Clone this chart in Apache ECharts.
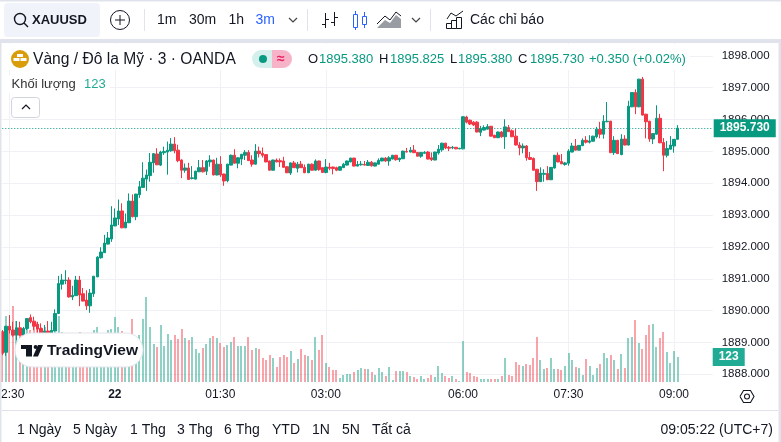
<!DOCTYPE html>
<html>
<head>
<meta charset="utf-8">
<title>XAUUSD</title>
<style>
  html, body { margin: 0; padding: 0; background: #fff; }
  #main { width: 781px; height: 442px; }
</style>
<script src="https://cdn.jsdelivr.net/npm/echarts@6/dist/echarts.min.js"></script>
</head>
<body>
<div id="main"></div>
<script>
// 3 minute bars
const opens = [
  1889.34,1888.69,1889.51,1889.39,1889.23,1889.46,1889.23,1889.44,1889.78,1889.67,
  1889.57,1889.44,1889.28,1889.36,1889.29,1889.36,1889.91,1890.83,1890.94,1890.96,
  1890.43,1890.47,1890.96,1890.53,1890.33,1890.15,1890.53,1891.06,1891.66,1891.82,
  1892.09,1892.25,1892.66,1892.88,1893.13,1892.60,1892.76,1893.44,1892.95,1893.64,
  1893.87,1894.13,1894.24,1894.64,1894.92,1894.57,1894.96,1894.98,1895.02,1895.23,
  1895.04,1894.73,1894.41,1894.48,1894.15,1894.13,1894.36,1894.49,1894.38,1894.67,
  1894.73,1894.26,1894.60,1894.29,1894.08,1894.57,1894.88,1894.63,1894.76,1894.88,
  1894.97,1894.73,1894.60,1895.01,1894.94,1894.90,1894.70,1894.41,1894.73,1894.71,
  1894.70,1894.52,1894.32,1894.64,1894.47,1894.60,1894.50,1894.33,1894.60,1894.41,
  1894.70,1894.49,1894.34,1894.51,1894.51,1894.49,1894.41,1894.49,1894.57,1894.67,
  1894.79,1894.54,1894.58,1894.59,1894.56,1894.66,1894.54,1894.60,1894.70,1894.79,
  1894.70,1894.76,1894.88,1894.74,1894.77,1895.00,1894.98,1895.04,1894.97,1894.85,
  1894.94,1894.98,1894.80,1894.73,1894.95,1895.05,1895.26,1895.13,1895.11,1895.13,
  1895.08,1895.08,1896.08,1895.98,1895.92,1895.92,1895.60,1895.67,1895.70,1895.79,
  1895.51,1895.43,1895.61,1895.46,1895.75,1895.65,1895.48,1895.20,1895.11,1895.17,
  1894.81,1894.78,1894.44,1894.05,1894.28,1894.31,1894.11,1894.48,1894.88,1894.68,
  1894.59,1894.63,1894.98,1895.17,1895.04,1895.18,1895.35,1895.29,1895.32,1895.46,
  1895.70,1895.54,1895.93,1895.95,1894.96,1895.35,1894.90,1895.39,1895.20,1896.40,
  1896.85,1896.40,1897.27,1896.17,1895.95,1895.39,1895.54,1896.04,1895.28,1894.88,
  1895.07,1895.17,1895.38
];
const closes = [
  1888.66,1889.51,1889.39,1889.23,1889.46,1889.23,1889.44,1889.75,1889.65,1889.51,
  1889.42,1889.28,1889.36,1889.28,1889.38,1889.91,1890.85,1890.96,1890.96,1890.43,
  1890.48,1890.96,1890.49,1890.30,1890.15,1890.55,1891.08,1891.68,1891.84,1892.12,
  1892.28,1892.69,1892.91,1893.13,1892.60,1892.78,1893.44,1892.95,1893.66,1893.89,
  1894.16,1894.26,1894.66,1894.93,1894.58,1894.98,1895.00,1895.04,1895.23,1895.02,
  1894.71,1894.41,1894.48,1894.12,1894.17,1894.38,1894.49,1894.36,1894.70,1894.73,
  1894.26,1894.60,1894.26,1894.07,1894.60,1894.88,1894.63,1894.80,1894.91,1894.97,
  1894.71,1894.60,1895.01,1894.93,1894.88,1894.67,1894.41,1894.73,1894.67,1894.67,
  1894.50,1894.33,1894.64,1894.49,1894.60,1894.49,1894.33,1894.60,1894.41,1894.70,
  1894.43,1894.34,1894.51,1894.47,1894.46,1894.41,1894.52,1894.60,1894.70,1894.79,
  1894.54,1894.59,1894.60,1894.57,1894.66,1894.55,1894.64,1894.72,1894.79,1894.70,
  1894.80,1894.88,1894.74,1894.79,1895.01,1894.98,1895.04,1894.96,1894.85,1894.97,
  1894.97,1894.76,1894.74,1894.98,1895.07,1895.26,1895.11,1895.10,1895.13,1895.08,
  1895.10,1896.09,1895.92,1895.86,1895.83,1895.61,1895.72,1895.75,1895.78,1895.48,
  1895.43,1895.61,1895.46,1895.77,1895.62,1895.46,1895.20,1895.11,1895.17,1894.80,
  1894.75,1894.41,1894.05,1894.32,1894.31,1894.11,1894.50,1894.88,1894.67,1894.61,
  1894.64,1895.01,1895.17,1895.04,1895.19,1895.35,1895.29,1895.33,1895.48,1895.70,
  1895.54,1895.95,1895.95,1894.96,1895.35,1894.93,1895.39,1895.20,1896.42,1896.85,
  1896.40,1897.27,1896.14,1895.93,1895.39,1895.56,1896.04,1895.27,1894.88,1895.09,
  1895.20,1895.38,1895.73
];
const lows = [
  1888.60,1888.58,1889.28,1889.18,1889.07,1889.21,1889.18,1889.39,1889.60,1889.39,
  1889.28,1889.23,1889.28,1889.25,1889.28,1889.34,1889.89,1890.66,1890.83,1890.41,
  1890.33,1890.46,1890.14,1890.29,1890.02,1889.93,1890.43,1891.05,1891.63,1891.81,
  1892.08,1892.16,1892.65,1892.69,1892.59,1892.59,1892.75,1892.93,1892.84,1893.54,
  1893.86,1893.76,1894.05,1894.33,1894.57,1894.54,1894.89,1894.27,1894.99,1894.94,
  1894.66,1894.16,1894.33,1894.10,1894.12,1894.12,1894.35,1894.34,1894.26,1894.52,
  1894.25,1894.25,1894.20,1893.92,1894.03,1894.56,1894.62,1894.47,1894.57,1894.73,
  1894.70,1894.52,1894.59,1894.81,1894.81,1894.66,1894.40,1894.40,1894.66,1894.51,
  1894.49,1894.32,1894.26,1894.48,1894.34,1894.48,1894.32,1894.32,1894.40,1894.40,
  1894.39,1894.32,1894.31,1894.41,1894.28,1894.38,1894.40,1894.48,1894.56,1894.66,
  1894.53,1894.53,1894.55,1894.56,1894.55,1894.52,1894.53,1894.59,1894.69,1894.67,
  1894.55,1894.75,1894.71,1894.67,1894.76,1894.97,1894.97,1894.95,1894.84,1894.80,
  1894.93,1894.75,1894.70,1894.72,1894.90,1894.99,1895.07,1895.01,1895.07,1895.07,
  1895.07,1895.07,1895.88,1895.83,1895.80,1895.60,1895.48,1895.66,1895.69,1895.47,
  1895.42,1895.42,1895.43,1895.08,1895.61,1895.45,1895.19,1894.88,1894.94,1894.71,
  1894.74,1894.40,1893.76,1894.04,1894.05,1894.10,1894.10,1894.46,1894.66,1894.60,
  1894.55,1894.55,1894.97,1895.03,1895.03,1895.17,1895.25,1895.25,1895.31,1895.41,
  1895.41,1895.40,1895.92,1894.95,1894.89,1894.92,1894.88,1895.19,1895.19,1896.39,
  1896.17,1896.39,1896.13,1895.41,1895.30,1895.23,1895.53,1895.26,1894.38,1894.81,
  1895.06,1894.96,1895.38
];
const highs = [
  1889.39,1889.52,1889.86,1889.65,1889.67,1889.65,1889.49,1889.76,1889.88,1889.81,
  1889.65,1889.60,1889.55,1889.67,1889.65,1890.04,1891.09,1891.15,1891.27,1891.05,
  1890.78,1891.09,1891.09,1890.71,1890.64,1890.68,1891.09,1891.71,1891.99,1892.38,
  1892.47,1893.28,1893.21,1893.49,1893.37,1893.05,1893.68,1893.65,1893.67,1894.07,
  1894.66,1894.43,1894.95,1894.94,1895.10,1895.02,1895.15,1895.31,1895.42,1895.45,
  1895.21,1894.75,1894.62,1894.64,1894.54,1894.39,1894.73,1894.73,1894.73,1894.88,
  1894.74,1894.80,1894.85,1894.30,1894.61,1894.90,1895.07,1894.81,1894.92,1895.04,
  1895.04,1894.88,1895.23,1895.15,1895.12,1894.91,1894.71,1894.74,1894.78,1894.78,
  1894.83,1894.53,1894.65,1894.70,1894.67,1894.70,1894.59,1894.61,1894.62,1894.75,
  1894.71,1894.50,1894.76,1894.64,1894.52,1894.52,1894.53,1894.64,1894.71,1894.80,
  1894.80,1894.70,1894.70,1894.70,1894.73,1894.70,1894.65,1894.78,1894.80,1894.82,
  1894.85,1894.89,1894.89,1894.80,1895.02,1895.11,1895.14,1895.20,1894.98,1894.98,
  1895.01,1895.01,1894.97,1894.99,1895.20,1895.27,1895.27,1895.17,1895.17,1895.14,
  1895.11,1896.10,1896.12,1896.00,1895.95,1895.95,1895.80,1895.82,1895.86,1895.80,
  1895.52,1895.62,1895.64,1896.01,1895.83,1895.69,1895.72,1895.29,1895.25,1895.20,
  1894.98,1894.81,1894.45,1894.50,1894.44,1894.54,1894.51,1894.89,1894.97,1894.92,
  1894.67,1895.07,1895.27,1895.39,1895.20,1895.41,1895.48,1895.51,1895.49,1895.77,
  1895.93,1896.14,1896.55,1895.96,1895.48,1895.36,1895.54,1895.51,1896.59,1896.86,
  1896.95,1897.28,1897.34,1896.18,1895.96,1895.57,1896.45,1896.18,1895.42,1895.33,
  1895.48,1895.39,1895.825
];
const volumes = [
  240,328,275,378,303,240,265,308,258,292,
  300,275,275,240,240,250,328,250,225,208,
  208,233,250,217,200,208,258,275,200,183,
  258,262,325,275,253,233,225,313,225,233,
  313,423,273,188,173,283,178,238,208,233,
  213,263,218,208,223,163,143,168,188,218,
  228,218,193,173,183,198,223,178,178,178,
  223,158,168,163,118,108,133,118,73,123,
  133,123,153,93,113,163,133,128,108,223,
  158,233,93,73,58,58,18,33,38,38,
  48,58,68,63,63,48,33,68,48,28,
  73,8,53,53,53,48,28,23,13,28,
  13,18,33,23,78,43,28,18,28,13,
  3,203,48,43,28,23,13,13,13,13,
  13,13,28,120,33,28,100,83,78,90,
  85,117,223,108,63,68,118,63,63,58,
  78,143,108,73,68,33,113,78,33,68,
  88,143,118,133,108,63,138,68,218,223,
  308,193,163,233,283,288,173,218,248,148,
  93,153,123
];
const tickIndex = [2, 32, 62, 92, 131, 161, 191];
const tickLabels = ['22:30', '22', '01:30', '03:00', '06:00', '07:30', '09:00'];
const rangeLabels = ['1 Ngày', '5 Ngày', '1 Thg', '3 Thg', '6 Thg', 'YTD', '1N', '5N', 'Tất cả'];
const rangeX = [17, 73, 130, 177, 224, 272, 312, 342, 372];
const lastPrice = 1895.73;
const lastVolume = 123;

const FONT = '"Liberation Sans", Arial, sans-serif';
const UP = '#089981';
const DOWN = '#f23645';
const VOL_UP = 'rgba(8,153,129,0.45)';
const VOL_DOWN = 'rgba(242,54,69,0.45)';
const INK = '#131722';
const EDGE = '#e0e3eb';
const GRIDLINE = '#f0f1f4';
const COUNT = 203; // bars plus the empty space on the right

const categories = [];
for (let i = 0; i < COUNT; i++) {
  const t = tickIndex.indexOf(i);
  categories.push(t >= 0 ? tickLabels[t] : String(i));
}
const isTick = index => tickIndex.indexOf(index) >= 0;

const candleData = opens.map((o, i) => [o, closes[i], lows[i], highs[i]]);
const volumeData = volumes.map((v, i) => [i, v, closes[i] >= opens[i] ? 1 : 0]);

// small helpers for the toolbar bits
function txt (x, y, text, color, size, weight) {
  return {
    type: 'text', x: x, y: y,
    style: { text: text, fill: color || INK, font: (weight || 'normal') + ' ' + (size || 13) + 'px ' + FONT, textVerticalAlign: 'middle' }
  };
}
function seg (x1, y1, x2, y2, color, w) {
  return { type: 'line', shape: { x1: x1, y1: y1, x2: x2, y2: y2 }, style: { stroke: color || INK, lineWidth: w || 1 } };
}
function box (x, y, w, h, fill, r, stroke) {
  return { type: 'rect', shape: { x: x, y: y, width: w, height: h, r: r || 0 }, style: { fill: fill, stroke: stroke || null } };
}
function poly (points, color, w, fill) {
  return { type: fill ? 'polygon' : 'polyline', shape: { points: points }, style: fill ? { fill: fill } : { stroke: color || INK, lineWidth: w || 1, fill: null } };
}
function chevron (cx, cy, up) {
  const d = up ? -2 : 2;
  return poly([[cx - 4, cy - d], [cx, cy + d], [cx + 4, cy - d]], up ? INK : '#444', 1.2);
}

const chrome = [
  // frame
  box(0, 0, 781, 1.5, EDGE),
  box(0, 39, 781, 4, EDGE),
  box(0, 39, 1.5, 403, EDGE),
  box(778.5, 39, 2.5, 403, EDGE),
  seg(2, 410.5, 778, 410.5, EDGE),
  // legend background hides the grid under the text
  box(2, 44, 688, 26, '#fff'),
  box(2, 75, 108, 18, '#fff'),
  // toolbar
  box(4, 3, 96, 34, '#f0f3fa', 4),
  { type: 'circle', shape: { cx: 20, cy: 19, r: 5.5 }, style: { fill: null, stroke: INK, lineWidth: 1.4 } },
  seg(24, 23, 28, 27, INK, 1.4),
  txt(32, 20, 'XAUUSD', INK, 13, 'bold'),
  { type: 'circle', shape: { cx: 120, cy: 20, r: 9.5 }, style: { fill: null, stroke: INK, lineWidth: 1 } },
  seg(115, 20, 125, 20), seg(120, 15, 120, 25),
  seg(144.5, 9, 144.5, 31, EDGE),
  txt(157, 20, '1m', INK, 14), txt(189, 20, '30m', INK, 14), txt(228.5, 20, '1h', INK, 14), txt(255.5, 20, '3m', '#2962ff', 14),
  chevron(293, 20),
  seg(307.5, 9, 307.5, 31, EDGE),
  seg(325.5, 13, 325.5, 28), seg(322, 24.5, 325.5, 24.5), seg(325.5, 19.5, 329, 19.5),
  seg(334.5, 12, 334.5, 26), seg(331, 22.5, 334.5, 22.5), seg(334.5, 17.5, 338, 17.5),
  seg(355.5, 11, 355.5, 30, '#2962ff'), box(353.5, 14.5, 4, 13, '#fff', 0, '#2962ff'),
  seg(364.5, 12, 364.5, 28, '#2962ff'), box(362.5, 16.5, 4, 8, '#fff', 0, '#2962ff'),
  poly([[377, 28], [385, 20], [390, 23], [396, 15], [401, 19], [401, 28]], null, 1, '#9a9ca3'),
  poly([[377, 24], [385, 16], [390, 20], [396, 12], [401, 16]], INK, 1),
  chevron(416, 20),
  seg(430.5, 9, 430.5, 31, EDGE),
  poly([[447, 19], [451, 13], [456, 16], [463, 11]], INK, 1),
  box(446.5, 23.5, 5, 5, '#fff', 0, INK), box(451.5, 20.5, 5, 8, '#fff', 0, INK), box(456.5, 17.5, 5, 11, '#fff', 0, INK),
  txt(470, 20, 'Các chỉ báo', INK, 14),
  // legend
  { type: 'circle', shape: { cx: 20, cy: 59, r: 9 }, style: { fill: '#d99c0b' } },
  box(17, 54, 6, 3, '#fff'), box(13.5, 58, 6, 3, '#fff'), box(20.5, 58, 6, 3, '#fff'),
  txt(33, 59.5, 'Vàng / Đô la Mỹ · 3 · OANDA', INK, 15.6),
  box(252, 50, 20, 18, '#d5f0ec', [9, 0, 0, 9]),
  box(272, 50, 20, 18, '#f7b4c9', [0, 9, 9, 0]),
  { type: 'circle', shape: { cx: 263, cy: 59, r: 4 }, style: { fill: UP } },
  txt(277, 59, '≈', '#e91e63', 14, 'bold'),
  txt(308, 59.5, 'O'), txt(319, 59.5, '1895.380', UP),
  txt(379, 59.5, 'H'), txt(390, 59.5, '1895.825', UP),
  txt(450, 59.5, 'L'), txt(458, 59.5, '1895.380', UP),
  txt(518, 59.5, 'C'), txt(530, 59.5, '1895.730', UP),
  txt(589, 59.5, '+0.350 (+0.02%)', UP),
  txt(11.5, 84, 'Khối lượng', '#333', 13), txt(84, 84, '123', '#22ab94', 13),
  box(11.5, 97.5, 28, 20, '#fff', 3, '#d1d4dc'),
  chevron(26, 107, true),
  // TradingView badge
  box(15, 333, 128, 34, '#fff', 17, EDGE),
  box(21, 345, 11, 4, INK), box(26, 345, 6, 11.5, INK),
  { type: 'circle', shape: { cx: 35.6, cy: 347, r: 2 }, style: { fill: INK } },
  poly([[38, 345], [43, 345], [38, 356.5], [33, 356.5]], null, 1, INK),
  txt(47, 351, 'TradingView', INK, 15.5, 'bold'),
  // settings
  poly([[740, 396.5], [743.5, 390.5], [750.5, 390.5], [754, 396.5], [750.5, 402.5], [743.5, 402.5], [740, 396.5]], INK, 1.1),
  { type: 'circle', shape: { cx: 747, cy: 396.5, r: 2.5 }, style: { fill: null, stroke: INK, lineWidth: 1.1 } },
  // bottom bar
  txt(660.5, 430, '09:05:22 (UTC+7)', INK, 14)
];
rangeLabels.forEach((t, i) => chrome.push(txt(rangeX[i], 430, t, INK, 14)));
chrome.forEach(el => { el.silent = true; el.z = 100; });

const gridLeft = 2.3;
const gridWidth = 710.4;

// volume bars are snapped to whole pixels like the original
function renderVolume (params, api) {
  const top = api.coord([api.value(0), api.value(1)]);
  const base = api.coord([api.value(0), 0]);
  const y = Math.round(top[1]);
  return {
    type: 'rect',
    shape: { x: Math.round(top[0] - 1), y: y, width: 2, height: Math.round(base[1]) - y },
    style: { fill: api.value(2) ? VOL_UP : VOL_DOWN }
  };
}

const myChart = echarts.init(document.getElementById('main'));
myChart.setOption({
  animation: false,
  backgroundColor: '#fff',
  textStyle: { fontFamily: FONT },
  grid: [
    { left: gridLeft, width: gridWidth, top: 55.9, height: 318.4, outerBoundsMode: 'none' }, // price
    { left: gridLeft, width: gridWidth, top: 43, height: 338.7, outerBoundsMode: 'none' } // volume, full height, carries the time axis
  ],
  xAxis: [
    {
      type: 'category', gridIndex: 0, data: categories, boundaryGap: false, show: false
    },
    {
      type: 'category', gridIndex: 1, data: categories, boundaryGap: false,
      axisLine: { show: false },
      axisTick: { show: false },
      axisLabel: {
        interval: isTick,
        margin: 7,
        hideOverlap: false,
        color: INK,
        fontSize: 12,
        fontFamily: FONT,
        formatter: v => (v === '22' ? '{b|22}' : v),
        rich: { b: { fontWeight: 'bold', fontSize: 12, color: INK, fontFamily: FONT } }
      },
      splitLine: { show: true, interval: isTick, lineStyle: { color: GRIDLINE } }
    }
  ],
  yAxis: [
    {
      type: 'value', gridIndex: 0, position: 'right', min: 1888, max: 1898, interval: 1,
      axisLine: { show: false },
      axisTick: { show: false },
      axisLabel: { margin: 9, color: INK, fontSize: 11.5, fontFamily: FONT, formatter: v => v.toFixed(3) },
      splitLine: { show: true, lineStyle: { color: GRIDLINE } }
    },
    {
      type: 'value', gridIndex: 1, min: 0, max: 1693.5, show: false, splitLine: { show: false }
    }
  ],
  series: [
    {
      name: 'Khối lượng',
      type: 'custom',
      xAxisIndex: 1,
      yAxisIndex: 1,
      z: 1,
      clip: false,
      silent: true,
      encode: { x: 0, y: 1 },
      renderItem: renderVolume,
      data: volumeData,
      markLine: {
        silent: true,
        symbol: 'none',
        lineStyle: { width: 0, color: 'transparent' },
        label: {
          position: 'end', distance: 0, formatter: String(lastVolume),
          color: '#fff', backgroundColor: '#22ab94', fontSize: 12, fontWeight: 'bold', fontFamily: FONT,
          padding: [3, 6], align: 'left'
        },
        data: [{ yAxis: lastVolume }]
      }
    },
    {
      name: 'XAUUSD',
      type: 'candlestick',
      xAxisIndex: 0,
      yAxisIndex: 0,
      barWidth: 3,
      z: 2,
      clip: false,
      silent: true,
      itemStyle: { color: UP, color0: DOWN, borderColor: UP, borderColor0: DOWN, borderColorDoji: UP, borderWidth: 1 },
      data: candleData,
      markLine: {
        silent: true,
        symbol: 'none',
        lineStyle: { color: UP, type: [1, 2], width: 1 },
        label: {
          position: 'end', distance: 1, formatter: lastPrice.toFixed(3),
          color: '#fff', backgroundColor: UP, fontSize: 12, fontWeight: 'bold', fontFamily: FONT,
          padding: [3, 6], align: 'left'
        },
        data: [{ yAxis: lastPrice }]
      }
    }
  ],
  graphic: { elements: chrome }
}, true);
</script>
</body>
</html>
